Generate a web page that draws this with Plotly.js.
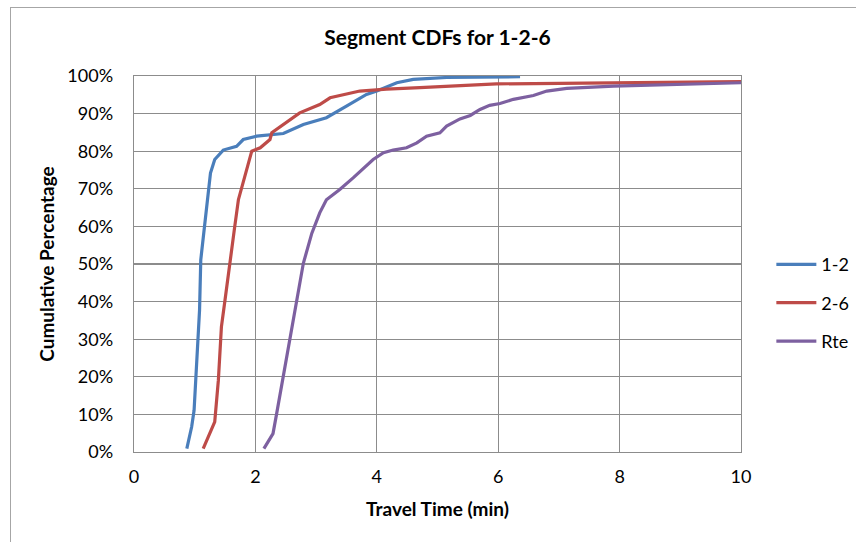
<!DOCTYPE html>
<html>
<head>
<meta charset="utf-8">
<script src="https://cdn.plot.ly/plotly-3.0.1.min.js"></script>
<style>
html,body{margin:0;padding:0;background:#fff;overflow:hidden;}
#frame{position:absolute;left:10px;top:7px;width:900px;height:600px;border:1px solid #a6a6a6;box-sizing:border-box;}
#chart{position:absolute;left:0;top:0;width:856px;height:542px;}
</style>
</head>
<body>
<div id="frame"></div>
<div id="chart"></div>
<script>
// Travel time (min) and cumulative fraction for each segment
const x12 = [0.87,0.95,0.99,1.03,1.08,1.10,1.14,1.21,1.26,1.33,1.47,1.69,1.80,2.02,2.46,2.79,3.17,3.50,3.83,4.00,4.33,4.60,5.15,6.36];
const y12 = [0.009,0.067,0.111,0.245,0.378,0.511,0.573,0.671,0.742,0.778,0.803,0.813,0.831,0.840,0.847,0.871,0.889,0.920,0.951,0.960,0.982,0.991,0.996,0.998];

const x26 = [1.14,1.33,1.39,1.44,1.50,1.58,1.66,1.72,1.83,1.94,2.08,2.24,2.27,2.46,2.73,3.06,3.23,3.72,4.16,4.71,5.97,10.0];
const y26 = [0.009,0.080,0.191,0.333,0.405,0.511,0.600,0.671,0.733,0.800,0.809,0.831,0.849,0.871,0.902,0.924,0.942,0.960,0.965,0.969,0.979,0.985];

const xRte = [2.14,2.29,2.35,2.46,2.57,2.68,2.79,2.93,3.06,3.17,3.39,3.61,3.94,4.11,4.27,4.49,4.66,4.82,5.04,5.15,5.37,5.54,5.70,5.86,6.03,6.25,6.58,6.80,7.13,7.90,9.00,10.0];
const yRte = [0.009,0.049,0.102,0.200,0.307,0.405,0.502,0.582,0.636,0.671,0.698,0.729,0.778,0.796,0.803,0.809,0.822,0.840,0.849,0.867,0.886,0.895,0.911,0.922,0.927,0.938,0.948,0.960,0.967,0.973,0.978,0.982];

const seriesNames = ["1-2","2-6","Rte"];
const seriesColors = ["#4A7EBB","#BE4B48","#7D60A0"];

const font = "Lato, Carlito, 'Open Sans', sans-serif";
const xs = [x12,x26,xRte], ys = [y12,y26,yRte];
const traces = xs.map((x,i)=>({
  x: x, y: ys[i], type:"scatter", mode:"lines", name: seriesNames[i],
  legendgroup: "g"+i,
  line:{color:seriesColors[i], width:3.2}
}));

const layout = {
  width:856, height:542,
  margin:{l:134, r:115, t:76, b:90, autoexpand:false},
  paper_bgcolor:"rgba(0,0,0,0)", plot_bgcolor:"#fff",
  font:{family:font, size:18, color:"#000"},
  title:{text:"<b>Segment CDFs for 1-2-6</b>", font:{family:font, size:21, color:"#000"}, x:0.5, xref:"paper", y:0.93, yanchor:"middle"},
  xaxis:{range:[0,10], dtick:2, tick0:0, showgrid:true, gridcolor:"#8c8c8c", gridwidth:1.3,
         showline:true, linecolor:"#8c8c8c", linewidth:1.3, mirror:true, zeroline:false,
         ticks:"", tickfont:{size:18}, ticklabelstandoff:8,
         title:{text:"<b>Travel Time (min)</b>", font:{size:19}, standoff:16}},
  yaxis:{range:[0,1], dtick:0.1, tick0:0, tickformat:".0%", showgrid:true, gridcolor:"#8c8c8c", gridwidth:1.3,
         showline:true, linecolor:"#8c8c8c", linewidth:1.3, mirror:true, zeroline:false,
         ticks:"", tickfont:{size:18}, ticklabelstandoff:16,
         title:{text:"<b>Cumulative Percentage</b>", font:{size:19}, standoff:7}},
  legend:{x:1.05, xanchor:"left", y:0.396, yanchor:"middle", tracegroupgap:12, itemwidth:40,
          font:{size:18}, bgcolor:"rgba(0,0,0,0)"},
  showlegend:true
};
Plotly.newPlot("chart", traces, layout, {displayModeBar:false, staticPlot:true});
</script>
</body>
</html>
